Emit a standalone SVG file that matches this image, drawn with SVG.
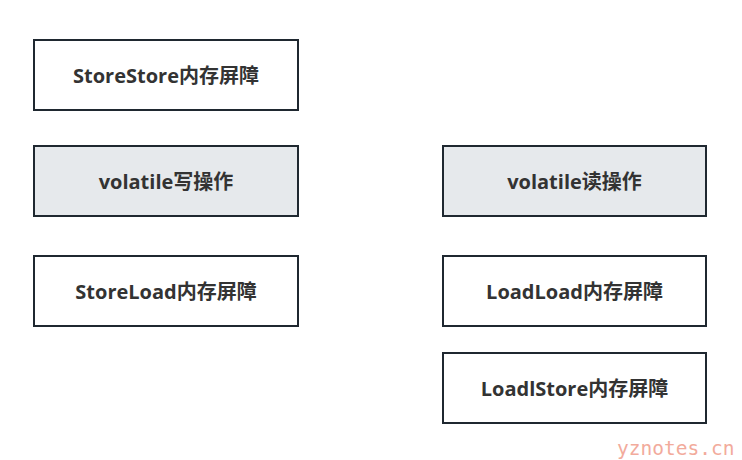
<svg xmlns="http://www.w3.org/2000/svg" width="742" height="460" viewBox="0 0 742 460">
<style>
.box{fill:#ffffff;stroke:#1f2830;stroke-width:2}
.hl{fill:#e6e9ec}
.t{font-family:"Open Sans","Noto Sans CJK SC",sans-serif;font-weight:bold;font-size:20px;fill:#333333;text-anchor:middle;dominant-baseline:central}
.wm{font-family:"DejaVu Sans Mono","Liberation Mono",monospace;font-size:19.5px;fill:#f2ab9c}
</style>
<rect width="742" height="460" fill="#ffffff"/>
<g id="storestore"><rect class="box" x="34" y="40" width="264" height="70"/><text class="t" x="166" y="75">StoreStore内存屏障</text></g>
<g id="volatile-write"><rect class="box hl" x="34" y="146" width="264" height="70"/><text class="t" x="166" y="181">volatile写操作</text></g>
<g id="storeload"><rect class="box" x="34" y="256" width="264" height="70"/><text class="t" x="166" y="291">StoreLoad内存屏障</text></g>
<g id="volatile-read"><rect class="box hl" x="443" y="146" width="263" height="70"/><text class="t" x="574.5" y="181">volatile读操作</text></g>
<g id="loadload"><rect class="box" x="443" y="256" width="263" height="70"/><text class="t" x="574.5" y="291">LoadLoad内存屏障</text></g>
<g id="loadstore"><rect class="box" x="443" y="353" width="263" height="70"/><text class="t" x="574.5" y="388">LoadlStore内存屏障</text></g>
<g id="connectors"></g>
<text class="wm" x="617" y="455">yznotes.cn</text>
</svg>
